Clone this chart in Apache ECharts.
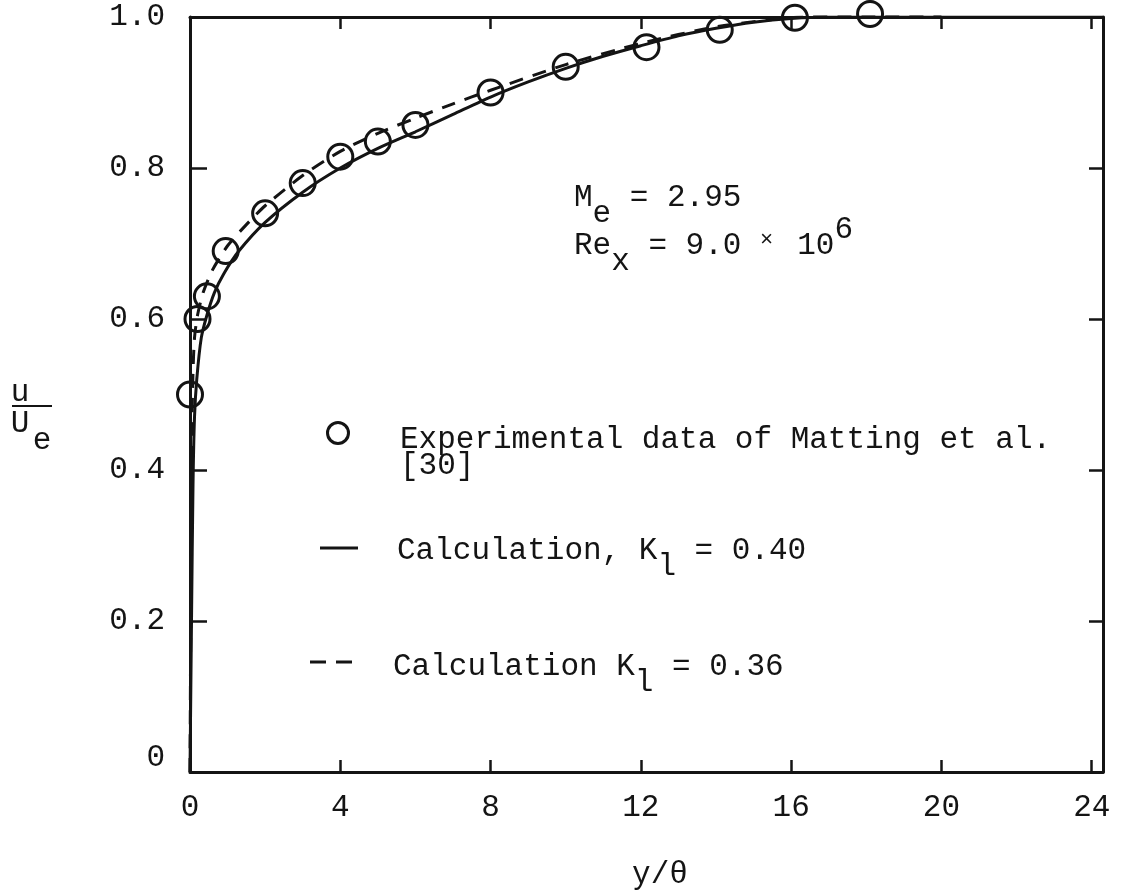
<!DOCTYPE html>
<html>
<head>
<meta charset="utf-8">
<script src="https://cdn.jsdelivr.net/npm/echarts@6/dist/echarts.min.js"></script>
<style>
  html, body { margin: 0; padding: 0; background: #fff; }
  #chart { width: 1124px; height: 892px; }
</style>
</head>
<body>
<div id="chart"></div>
<script>
// Velocity profile u/Ue versus y/theta, Me = 2.95, Rex = 9.0e6
const xTicks = [0, 4, 8, 12, 16, 20, 24];
const yTicks = [0, 0.2, 0.4, 0.6, 0.8, 1.0];

// Experimental data of Matting et al. [30]
const expX = [0, 0.2, 0.45, 0.95, 2, 3, 4, 5, 6, 8, 10, 12.15, 14.1, 16.1, 18.1];
const expU = [0.50, 0.60, 0.63, 0.69, 0.74, 0.78, 0.815, 0.835, 0.857, 0.90, 0.934, 0.96, 0.983, 0.999, 1.004];

// Calculation, K1 = 0.40 (solid)
const solidX = [0, 0.04, 0.08, 0.12, 0.18, 0.3, 0.45, 0.65, 0.9, 1.3, 2, 3, 4, 5, 6, 7, 8, 9, 10, 11, 12, 13, 14, 15, 16, 17, 18, 20, 24.3];
const solidU = [0, 0.2, 0.38, 0.47, 0.52, 0.575, 0.605, 0.635, 0.66, 0.69, 0.728, 0.768, 0.80, 0.826, 0.848, 0.871, 0.894, 0.914, 0.932, 0.948, 0.962, 0.975, 0.985, 0.993, 0.998, 1.0, 1.0, 1.0, 1.0];

// Calculation, K1 = 0.36 (dashed)
const dashX = [0, 0.03, 0.05, 0.08, 0.12, 0.2, 0.35, 0.6, 1.0, 1.5, 2, 3, 4, 5, 6, 7, 8, 10, 12, 14, 16, 18, 20];
const dashU = [0, 0.3, 0.45, 0.53, 0.575, 0.605, 0.635, 0.665, 0.697, 0.725, 0.75, 0.79, 0.822, 0.846, 0.866, 0.885, 0.903, 0.937, 0.965, 0.987, 0.999, 1.002, 1.002];

const zip = (xs, ys) => xs.map((x, i) => [x, ys[i]]);

const INK = '#141414';
const FONT = "'Liberation Mono', 'Courier New', monospace";
const FS = 31;

const chart = echarts.init(document.getElementById('chart'), null, { renderer: 'canvas' });

function txt(x, y, s, align) {
  return {
    type: 'text', x: x, y: y,
    style: { text: s, fill: INK, font: FS + 'px ' + FONT, textAlign: align || 'left', textVerticalAlign: 'middle' }
  };
}
const P = FS * 0.6; // monospace pitch

const graphics = [
  // y-axis name: u over Ue
  txt(20, 393, 'u', 'center'),
  { type: 'line', shape: { x1: 12, y1: 406, x2: 52, y2: 406 }, style: { stroke: INK, lineWidth: 2 } },
  txt(20, 424, 'U', 'center'),
  txt(42, 441, 'e', 'center'),
  // x-axis name
  txt(660, 875, 'y/\u03b8', 'center'),
  // Me = 2.95
  txt(574, 198, 'M'),
  txt(574 + P, 214, 'e'),
  txt(574 + 2 * P, 198, ' = 2.95'),
  // Rex = 9.0 x 10^6
  txt(574, 246, 'Re'),
  txt(574 + 2 * P, 262, 'x'),
  txt(574 + 3 * P, 246, ' = 9.0'),
  { type: 'text', x: 574 + 10 * P, y: 240, style: { text: '\u00d7', fill: INK, font: '22px ' + FONT, textAlign: 'left', textVerticalAlign: 'middle' } },
  txt(574 + 12 * P, 246, '10'),
  txt(574 + 14 * P, 230, '6'),
  // legend: experimental data
  { type: 'circle', shape: { cx: 338, cy: 433, r: 10.5 }, style: { fill: 'none', stroke: INK, lineWidth: 3 } },
  txt(400, 440, 'Experimental data of Matting et al.'),
  txt(400, 466, '[30]'),
  // legend: solid line
  { type: 'line', shape: { x1: 320, y1: 548, x2: 358, y2: 548 }, style: { stroke: INK, lineWidth: 3 } },
  txt(397, 551, 'Calculation, K'),
  txt(397 + 14 * P, 567, 'l'),
  txt(397 + 15 * P, 551, ' = 0.40'),
  // legend: dashed line
  { type: 'line', shape: { x1: 310, y1: 662, x2: 360, y2: 662 }, style: { stroke: INK, lineWidth: 3, lineDash: [16, 10] } },
  txt(393, 667, 'Calculation K'),
  txt(393 + 13 * P, 683, 'l'),
  txt(393 + 14 * P, 667, ' = 0.36')
];

const option = {
  backgroundColor: '#fff',
  animation: false,
  grid: { left: 190, right: 21, top: 17, bottom: 120, containLabel: false },
  xAxis: [
    {
      type: 'value', position: 'bottom', min: 0, max: 24.3, interval: 4,
      axisLine: { show: true, onZero: false, lineStyle: { color: INK, width: 3 } },
      axisTick: { show: true, inside: true, length: 12, lineStyle: { color: INK, width: 2.5 } },
      axisLabel: {
        color: INK, fontFamily: FONT, fontSize: FS, margin: 20,
        showMaxLabel: false,
        formatter: v => (xTicks.indexOf(v) >= 0 ? String(v) : '')
      },
      splitLine: { show: false }
    },
    {
      type: 'value', position: 'top', min: 0, max: 24.3, interval: 4,
      axisLine: { show: true, onZero: false, lineStyle: { color: INK, width: 3 } },
      axisTick: { show: true, inside: true, length: 12, lineStyle: { color: INK, width: 2.5 } },
      axisLabel: { show: false },
      splitLine: { show: false }
    }
  ],
  yAxis: [
    {
      type: 'value', position: 'left', min: 0, max: 1.0, interval: 0.2,
      axisLine: { show: true, onZero: false, lineStyle: { color: INK, width: 3 } },
      axisTick: { show: true, inside: true, length: 17, lineStyle: { color: INK, width: 2.5 } },
      axisLabel: {
        color: INK, fontFamily: FONT, fontSize: FS, margin: 25,
        formatter: v => (Math.abs(v) < 1e-9 ? '{z|0}' : v.toFixed(1)),
        rich: { z: { fontFamily: FONT, fontSize: FS, color: INK, padding: [0, 0, 28, 0] } }
      },
      splitLine: { show: false }
    },
    {
      type: 'value', position: 'right', min: 0, max: 1.0, interval: 0.2,
      axisLine: { show: true, onZero: false, lineStyle: { color: INK, width: 3 } },
      axisTick: { show: true, inside: true, length: 14, lineStyle: { color: INK, width: 2.5 } },
      axisLabel: { show: false },
      splitLine: { show: false }
    }
  ],
  series: [
    {
      name: 'Calculation, K1 = 0.40', type: 'line', xAxisIndex: 0, yAxisIndex: 0,
      data: zip(solidX, solidU), showSymbol: false, smooth: 0.25, clip: true,
      lineStyle: { color: INK, width: 3 }
    },
    {
      name: 'Calculation K1 = 0.36', type: 'line', xAxisIndex: 0, yAxisIndex: 0,
      data: zip(dashX, dashU), showSymbol: false, smooth: 0.25, clip: true,
      lineStyle: { color: INK, width: 3, type: [14, 10] }
    },
    {
      name: 'Experimental data of Matting et al. [30]', type: 'scatter', xAxisIndex: 0, yAxisIndex: 0,
      data: zip(expX, expU), symbol: 'circle', symbolSize: 25, clip: false,
      itemStyle: { color: 'rgba(0,0,0,0)', borderColor: INK, borderWidth: 3, opacity: 1 }
    }
  ],
  graphic: graphics
};

chart.setOption(option);
</script>
</body>
</html>
